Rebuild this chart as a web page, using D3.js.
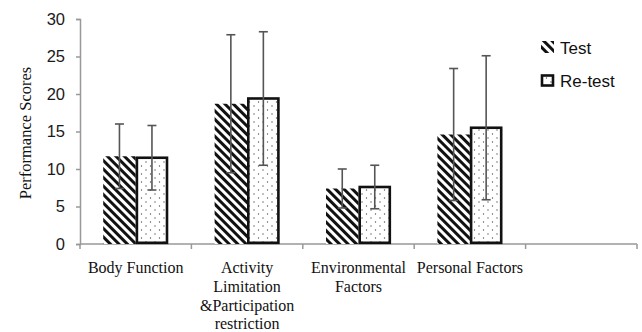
<!DOCTYPE html>
<html><head><meta charset="utf-8">
<script src="https://cdn.jsdelivr.net/npm/d3@7"></script>
<style>body{margin:0;background:#fff}svg{display:block}</style>
</head><body>
<script>
const categories = [["Body Function"], ["Activity","Limitation","&Participation","restriction"], ["Environmental","Factors"], ["Personal Factors"]];
const testMean = [11.7, 18.7, 7.4, 14.6];
const testSD   = [4.3, 9.2, 2.6, 8.8];
const retestMean = [11.5, 19.4, 7.6, 15.5];
const retestSD   = [4.3, 8.9, 2.9, 9.6];
const yTicks = [0, 5, 10, 15, 20, 25, 30];
const seriesNames = ["Test", "Re-test"];

const W = 642, H = 332;
const svg = d3.select("body").append("svg").attr("width", W).attr("height", H);
const defs = svg.append("defs");
const hatch = defs.append("pattern").attr("id","hatch").attr("patternUnits","userSpaceOnUse")
  .attr("width",6).attr("height",6).attr("patternTransform","rotate(-45)");
hatch.append("rect").attr("width",6).attr("height",6).attr("fill","#fff");
hatch.append("line").attr("x1",1.5).attr("x2",1.5).attr("y1",0).attr("y2",6).attr("stroke","#111").attr("stroke-width",3);
const dots = defs.append("pattern").attr("id","dots").attr("patternUnits","userSpaceOnUse")
  .attr("width",9).attr("height",8);
dots.append("rect").attr("width",9).attr("height",8).attr("fill","#fff");
dots.append("circle").attr("cx",2).attr("cy",2).attr("r",0.7).attr("fill","#555");
dots.append("circle").attr("cx",6.5).attr("cy",6).attr("r",0.7).attr("fill","#555");

const x0 = 80, x1 = 637, yTop = 19, yBot = 244;
const slots = d3.range(5);
const x = d3.scaleBand().domain(slots).range([x0, x1]).paddingInner(0).paddingOuter(0);
const y = d3.scaleLinear().domain([0, 30]).range([yBot, yTop]);
const bw = 32.5;

// axes
const axCol = "#999";
const yAxis = d3.axisLeft(y).tickValues(yTicks).tickSize(4).tickPadding(11);
const gy = svg.append("g").attr("transform",`translate(${x0},0)`).call(yAxis);
gy.select(".domain").attr("stroke",axCol).attr("stroke-width",1.5);
gy.selectAll(".tick line").attr("stroke",axCol).attr("stroke-width",1.5);
gy.selectAll(".tick text").attr("font-family","Liberation Sans, Arial, sans-serif").attr("font-size",16.5).attr("fill","#1a1a1a");

// x axis baseline and ticks at band boundaries
svg.append("line").attr("x1",x0).attr("x2",x1).attr("y1",yBot).attr("y2",yBot).attr("stroke",axCol).attr("stroke-width",1.5);
const bounds = slots.map(d => x(d)).concat([x1]);
svg.selectAll(".xt").data(bounds).enter().append("line")
  .attr("x1",d=>d).attr("x2",d=>d).attr("y1",yBot).attr("y2",yBot+5).attr("stroke",axCol).attr("stroke-width",1.5);

// bars
const cx = i => x(i) + x.bandwidth()/2;
svg.selectAll(".bt").data(testMean).enter().append("rect")
  .attr("x",(d,i)=>cx(i)-bw).attr("width",bw).attr("y",d=>y(d)).attr("height",d=>yBot-y(d)).attr("fill","url(#hatch)");
svg.selectAll(".br").data(retestMean).enter().append("rect")
  .attr("x",(d,i)=>cx(i)+1.2).attr("width",bw-2.4).attr("y",d=>y(d)).attr("height",d=>yBot-y(d)-1.2)
  .attr("fill","url(#dots)").attr("stroke","#111").attr("stroke-width",2.6);

// error bars
const errCol = "#555";
function errBars(means, sds, off){
  means.forEach((m,i)=>{
    const xc = cx(i)+off;
    const g = svg.append("g").attr("stroke",errCol).attr("stroke-width",1.6);
    g.append("line").attr("x1",xc).attr("x2",xc).attr("y1",y(m+sds[i])).attr("y2",y(m-sds[i]));
    g.append("line").attr("x1",xc-4.5).attr("x2",xc+4.5).attr("y1",y(m+sds[i])).attr("y2",y(m+sds[i]));
    g.append("line").attr("x1",xc-4.5).attr("x2",xc+4.5).attr("y1",y(m-sds[i])).attr("y2",y(m-sds[i]));
  });
}
errBars(testMean, testSD, -bw/2);
errBars(retestMean, retestSD, bw/2);

// x labels
categories.forEach((lines,i)=>{
  const t = svg.append("text").attr("x",cx(i)).attr("y",273).attr("text-anchor","middle")
    .attr("font-family","Liberation Serif, Times New Roman, serif").attr("font-size",16).attr("fill","#111");
  lines.forEach((l,j)=>t.append("tspan").attr("x",cx(i)).attr("dy", j===0?0:18.8).text(l));
});

// y label
svg.append("text").attr("transform",`translate(31,133) rotate(-90)`).attr("text-anchor","middle")
  .attr("font-family","Liberation Serif, Times New Roman, serif").attr("font-size",16.5).attr("fill","#111")
  .text("Performance Scores");

// legend
const lg = svg.append("g").attr("font-family","Liberation Sans, Arial, sans-serif").attr("font-size",17).attr("fill","#111");
lg.append("rect").attr("x",541).attr("y",41).attr("width",13).attr("height",12).attr("fill","url(#hatch)");
lg.append("text").attr("x",560).attr("y",54).text(seriesNames[0]);
lg.append("rect").attr("x",542).attr("y",75.5).attr("width",11).attr("height",10).attr("fill","url(#dots)").attr("stroke","#111").attr("stroke-width",2.6);
lg.append("text").attr("x",560).attr("y",87).text(seriesNames[1]);
</script>
</body></html>
